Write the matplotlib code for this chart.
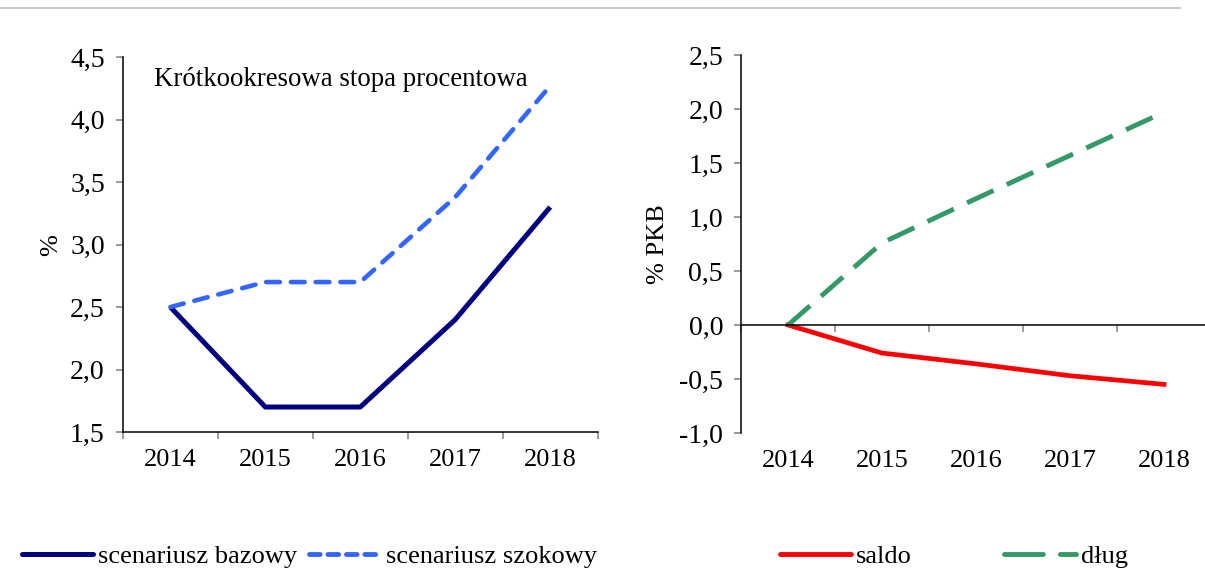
import matplotlib
matplotlib.use("Agg")
import matplotlib.pyplot as plt
from matplotlib.lines import Line2D
from matplotlib.transforms import blended_transform_factory

plt.rcParams['font.family'] = ['Liberation Serif', 'DejaVu Serif']
plt.rcParams['font.size'] = 19

years = ['2014', '2015', '2016', '2017', '2018']
rate_base = [2.5, 1.7, 1.7, 2.4, 3.3]
rate_shock = [2.5, 2.7, 2.7, 3.38, 4.27]
saldo = [0.0, -0.26, -0.36, -0.47, -0.55]
debt = [0.0, 0.76, 1.17, 1.57, 1.97]

left_yticks = [1.5, 2.0, 2.5, 3.0, 3.5, 4.0, 4.5]
right_yticks = [-1.0, -0.5, 0.0, 0.5, 1.0, 1.5, 2.0, 2.5]

NAVY = '#000080'
BLUE = '#3366ff'
RED = '#ff0000'
GREEN = '#339966'
TICK = '#808080'


def comma(v):
    return f"{v:.1f}".replace('.', ',')


def style_axes(ax, yticks):
    n = len(years)
    x = list(range(n))
    ax.set_xlim(-0.5, n - 0.5)
    ax.set_ylim(yticks[0], yticks[-1])
    ax.set_yticks(yticks)
    ax.set_yticklabels([comma(v) for v in yticks], fontsize=20)
    ax.set_xticks([i - 0.5 for i in range(n + 1)])
    ax.set_xticklabels([])
    ax.spines['top'].set_visible(False)
    ax.spines['right'].set_visible(False)
    for s in ('left', 'bottom'):
        ax.spines[s].set_linewidth(1.1)
    ax.tick_params(axis='both', direction='out', length=5, width=1.1,
                   color=TICK, pad=8)
    trans = blended_transform_factory(ax.transData, ax.transAxes)
    for i, lab in zip(x, years):
        ax.text(i, -0.045, lab, transform=trans, ha='center', va='top')
    return x


fig = plt.figure(figsize=(12.05, 5.68), dpi=100)

# thin rule at the top
fig.add_artist(Line2D([0, 0.979], [0.986, 0.986], color='#c0c0c0', lw=1.2))

ax1 = fig.add_axes([0.102, 0.2394, 0.394, 0.660])
x = style_axes(ax1, left_yticks)
ax1.plot(x, rate_base, color=NAVY, lw=3.6, solid_capstyle='butt')
ax1.plot(x, rate_shock, color=BLUE, lw=3.3, dashes=(3, 2.4),
         dash_capstyle='round')
ax1.text(0.065, 0.975, 'Krótkookresowa stopa procentowa',
         transform=ax1.transAxes, ha='left', va='top', fontsize=19.4)
ax1.set_ylabel('%', labelpad=6)

ax2 = fig.add_axes([0.615, 0.2377, 0.390, 0.6655])
x = style_axes(ax2, right_yticks)
ax2.spines['bottom'].set_position(('data', 0))
ax2.plot(x, saldo, color=RED, lw=3.4)
ax2.plot(x, debt, color=GREEN, lw=3.5, dashes=(6, 3))
ax2.set_ylabel('% PKB', labelpad=7)

h_base = Line2D([], [], color=NAVY, lw=3.6, solid_capstyle='round')
h_shock = Line2D([], [], color=BLUE, lw=3.5, dashes=(2.2, 1.6),
                 dash_capstyle='round')
fig.legend([h_base, h_shock], ['scenariusz bazowy', 'scenariusz szokowy'],
           loc='center left', bbox_to_anchor=(0.018, 0.021), ncol=2,
           frameon=False, handlelength=2.7, handletextpad=0.2,
           columnspacing=0.45, borderpad=0, borderaxespad=0)

h_saldo = Line2D([], [], color=RED, lw=3.5, solid_capstyle='round')
h_debt = Line2D([], [], color=GREEN, lw=3.5, dashes=(8, 3.5),
                dash_capstyle='round')
fig.legend([h_saldo, h_debt], ['saldo', 'dług'],
           loc='center left', bbox_to_anchor=(0.647, 0.021), ncol=2,
           frameon=False, handlelength=2.7, handletextpad=0.2,
           columnspacing=3.5, borderpad=0, borderaxespad=0)

fig.savefig('out.png', dpi=100)
